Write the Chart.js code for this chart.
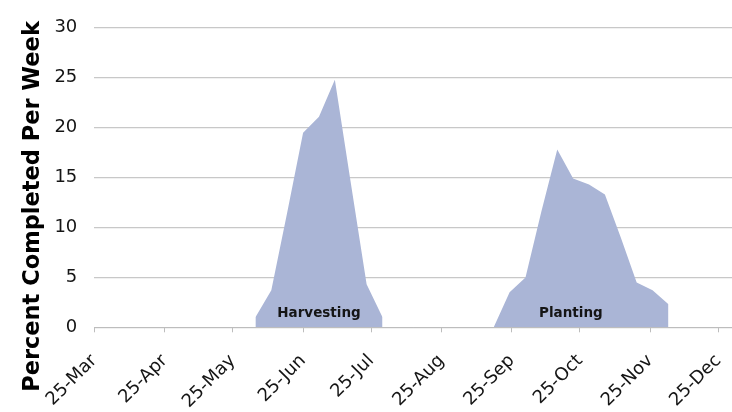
<!DOCTYPE html>
<html>
<head>
<meta charset="utf-8">
<script src="https://cdn.jsdelivr.net/npm/chart.js@4/dist/chart.umd.min.js"></script>
<style>
  html, body { margin: 0; padding: 0; background: #fff; }
  canvas { display: block; }
</style>
</head>
<body>
<canvas id="chart" width="732" height="412"></canvas>
<script>
// Weekly progress of the harvest and the planting season, in percent per week.
const YEAR = 2009;
const axisStart = '03-25';
const axisEnd = '12-31';

const tickDates = ['03-25', '04-25', '05-25', '06-25', '07-25', '08-25', '09-25', '10-25', '11-25', '12-25'];
const tickLabels = ['25-Mar', '25-Apr', '25-May', '25-Jun', '25-Jul', '25-Aug', '25-Sep', '25-Oct', '25-Nov', '25-Dec'];
const yTicks = [0, 5, 10, 15, 20, 25, 30];

const harvestWeeks = ['06-04', '06-11', '06-18', '06-25', '07-02', '07-09', '07-16', '07-23', '07-30'];
const harvestPct = [1.0, 3.7, 11.5, 19.5, 21.1, 24.8, 14.5, 4.3, 1.0];

const plantWeeks = ['09-17', '09-24', '10-01', '10-08', '10-15', '10-22', '10-29', '11-05', '11-12', '11-19', '11-26', '12-03'];
const plantPct = [0, 3.5, 5.0, 11.6, 17.8, 14.9, 14.3, 13.3, 9.0, 4.5, 3.7, 2.3];

const phaseNames = ['Harvesting', 'Planting'];
const phaseLabelDates = ['07-02', '10-21'];
const phaseLabelPct = 1.4;

const yTitle = 'Percent Completed Per Week';

// days elapsed since the start of the axis (25 March)
function dayOf(md) {
  const [m, d] = md.split('-').map(Number);
  const [m0, d0] = axisStart.split('-').map(Number);
  return (Date.UTC(YEAR, m - 1, d) - Date.UTC(YEAR, m0 - 1, d0)) / 86400000;
}
const toPoints = (dates, vals) => dates.map((d, i) => ({ x: dayOf(d), y: vals[i] }));

const FILL = '#aab5d6';
const INK = '#151515';
const FONT = '"DejaVu Sans", Verdana, sans-serif';

const areaStyle = {
  fill: 'origin',
  backgroundColor: FILL,
  borderWidth: 0,
  borderColor: FILL,
  pointRadius: 0,
  tension: 0
};

// names of the two seasons, written inside their areas
const phaseLabels = {
  id: 'phaseLabels',
  afterDatasetsDraw(chart) {
    const { ctx, scales: { x, y } } = chart;
    ctx.save();
    ctx.font = 'bold 13.5px ' + FONT;
    ctx.fillStyle = INK;
    ctx.textAlign = 'center';
    ctx.textBaseline = 'middle';
    phaseNames.forEach((name, i) => {
      ctx.fillText(name, x.getPixelForValue(dayOf(phaseLabelDates[i])), y.getPixelForValue(phaseLabelPct));
    });
    ctx.restore();
  }
};

// vertical axis title, centred on the whole left edge
const axisTitle = {
  id: 'axisTitle',
  afterDraw(chart) {
    const { ctx } = chart;
    ctx.save();
    ctx.translate(38.5, 206.5);
    ctx.rotate(-Math.PI / 2);
    ctx.font = 'bold 22.5px ' + FONT;
    ctx.fillStyle = '#000';
    ctx.textAlign = 'center';
    ctx.textBaseline = 'alphabetic';
    ctx.fillText(yTitle, 0, 0);
    ctx.restore();
  }
};

new Chart(document.getElementById('chart'), {
  type: 'line',
  data: {
    datasets: [
      Object.assign({ label: phaseNames[0], data: toPoints(harvestWeeks, harvestPct) }, areaStyle),
      Object.assign({ label: phaseNames[1], data: toPoints(plantWeeks, plantPct) }, areaStyle)
    ]
  },
  options: {
    responsive: false,
    animation: false,
    layout: { padding: { top: 20.7, right: 0, bottom: 0, left: 0 } },
    plugins: {
      legend: { display: false },
      tooltip: { enabled: false }
    },
    scales: {
      x: {
        type: 'linear',
        min: 0,
        max: dayOf(axisEnd),
        afterBuildTicks: (s) => { s.ticks = tickDates.map(d => ({ value: dayOf(d) })); },
        afterFit: (s) => { s.height = 84.7; s.paddingRight = 0; },
        ticks: {
          autoSkip: false,
          minRotation: 45,
          maxRotation: 45,
          padding: 18,
          color: INK,
          font: { family: FONT, size: 18 },
          callback: (v, i) => tickLabels[i]
        },
        grid: { drawOnChartArea: false, drawTicks: true, tickLength: 5, color: '#bdbdbd' },
        border: { display: true, color: '#bdbdbd', width: 1 }
      },
      y: {
        min: 0,
        max: 30,
        afterBuildTicks: (s) => { s.ticks = yTicks.map(v => ({ value: v })); },
        afterFit: (s) => { s.width = 94.3; },
        ticks: {
          padding: 17,
          color: INK,
          font: { family: FONT, size: 18 }
        },
        grid: { color: '#c8c8c8', lineWidth: 1.2, drawTicks: false },
        border: { display: false }
      }
    }
  },
  plugins: [phaseLabels, axisTitle]
});
</script>
</body>
</html>
